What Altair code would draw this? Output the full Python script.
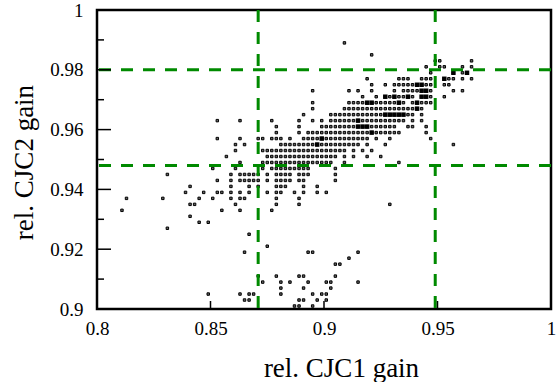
import altair as alt
import pandas as pd

# x values (in thousandths) of the points in each row; the row's y value (thousandths) is in the name
y989 = [909]
y985 = [921]
y983 = [949, 951, 965]
y981 = [945, 951, 953, 961, 965]
y979 = [947, 957, 961, 963]
y977 = [919, 933, 935, 937, 943, 945, 947, 953, 955, 957, 961, 965]
y975 = [921, 927, 931, 933, 935, 937, 939, 941, 943, 945, 947, 953, 955]
y973 = [895, 911, 915, 921, 931, 935, 937, 939, 941, 943, 945, 947, 957, 961]
y971 = [917, 923, 927, 929, 931, 933, 935, 937, 939, 943, 945, 947, 953]
y969 = [895, 911, 913, 915, 917, 919, 921, 923, 925, 927, 929, 931, 933, 935, 939, 941, 943, 945, 947]
y967 = [895, 909, 911, 913, 915, 917, 919, 921, 923, 925, 927, 929, 931, 933, 935, 937, 939, 941, 943]
y965 = [891, 903, 905, 907, 909, 911, 913, 915, 917, 919, 921, 923, 925, 927, 929, 931, 933, 935, 937, 939, 943]
y963 = [853, 863, 877, 889, 895, 899, 903, 905, 907, 909, 911, 913, 915, 917, 919, 921, 923, 925, 927, 929, 931, 933, 935, 939, 943]
y961 = [879, 889, 899, 901, 903, 905, 907, 909, 911, 913, 915, 917, 919, 921, 923, 925, 927, 929, 931, 937, 939, 945]
y959 = [879, 889, 893, 895, 897, 899, 901, 903, 905, 907, 909, 911, 913, 915, 917, 919, 921, 923, 925, 927, 929, 931, 933, 945]
y957 = [853, 863, 871, 873, 877, 879, 881, 885, 891, 893, 895, 897, 899, 901, 903, 905, 907, 909, 911, 913, 915, 917, 919, 923, 929, 947]
y955 = [861, 865, 881, 883, 885, 887, 889, 891, 893, 895, 897, 899, 901, 903, 905, 907, 909, 911, 913, 915, 919, 927, 957]
y953 = [861, 873, 875, 877, 879, 881, 883, 885, 887, 889, 891, 893, 895, 897, 899, 901, 903, 905, 907, 909, 913, 917, 921]
y951 = [857, 875, 877, 879, 881, 883, 885, 887, 889, 891, 893, 895, 897, 899, 901, 903, 905, 909, 913, 919, 925]
y949 = [863, 873, 875, 877, 879, 881, 883, 885, 887, 889, 891, 893, 895, 897, 899, 901, 903, 909, 933]
y947 = [851, 861, 873, 877, 879, 881, 883, 885, 887, 889, 891, 893, 905]
y945 = [831, 859, 863, 865, 867, 869, 871, 875, 879, 881, 883, 885, 889, 891, 893, 905]
y943 = [853, 859, 863, 865, 867, 869, 871, 875, 879, 881, 883, 885, 889, 891, 905]
y941 = [841, 859, 867, 871, 879, 881, 883, 891, 897]
y939 = [839, 847, 853, 855, 859, 863, 867, 875, 879, 881, 887, 891, 897, 901]
y937 = [813, 829, 845, 851, 859, 863, 865, 879, 889]
y935 = [841, 843, 861, 879, 889, 929]
y933 = [811, 855, 863, 877]
y931 = [841]
y929 = [845, 849]
y927 = [831]
y925 = [867]
y921 = [875]
y919 = [865, 893, 895, 915]
y917 = [911]
y915 = [905, 907]
y911 = [871, 879, 889, 891, 905]
y909 = [873, 881, 885, 893, 901, 903, 915]
y907 = [881, 891, 903]
y905 = [849, 863, 867, 869, 881, 895, 899, 901]
y903 = [865, 867, 889, 891, 897, 901]
y901 = [887, 889, 895]

# overlapping (dense) spots drawn as solid squares, thousandths
heavy_x = [957, 963, 953, 941, 943, 943, 945, 927, 931, 937, 943, 945, 919, 921, 933, 941,
           941, 927, 929, 931, 933, 935, 915, 915, 917, 919, 921, 897, 899]
heavy_y = [979, 979, 977, 975, 975, 973, 973, 971, 971, 971, 971, 971, 969, 969, 969, 969,
           967, 965, 965, 965, 965, 965, 963, 961, 961, 961, 959, 955, 957]

# cut lines
cut_x = [0.871, 0.949]
cut_y = [0.948, 0.98]

# axis ticks
x_ticks = [0.8, 0.85, 0.9, 0.95, 1.0]
y_ticks = [0.9, 0.92, 0.94, 0.96, 0.98, 1.0]
y_minor = [0.91, 0.93, 0.95, 0.97, 0.99]

rows = [
    (989, y989), (985, y985), (983, y983), (981, y981), (979, y979), (977, y977),
    (975, y975), (973, y973), (971, y971), (969, y969), (967, y967), (965, y965),
    (963, y963), (961, y961), (959, y959), (957, y957), (955, y955), (953, y953),
    (951, y951), (949, y949), (947, y947), (945, y945), (943, y943), (941, y941),
    (939, y939), (937, y937), (935, y935), (933, y933), (931, y931), (929, y929),
    (927, y927), (925, y925), (921, y921), (919, y919), (917, y917), (915, y915),
    (911, y911), (909, y909), (907, y907), (905, y905), (903, y903), (901, y901),
]
recs = []
for yv, xs_ in rows:
    for xv in xs_:
        recs.append({"x": xv / 1000.0, "y": yv / 1000.0})
pts = pd.DataFrame(recs)
heavy = pd.DataFrame({"x": [v / 1000.0 for v in heavy_x], "y": [v / 1000.0 for v in heavy_y]})

FONT = "Liberation Serif"
W, H = 454, 299
xs = alt.Scale(domain=[0.8, 1.0], nice=False, zero=False)
ys = alt.Scale(domain=[0.9, 1.0], nice=False, zero=False)

x_axis = alt.Axis(
    values=x_ticks, format="~g", ticks=False, domain=False, grid=False,
    labelFont=FONT, labelFontSize=19, labelColor="black", labelPadding=10,
    labelFlush=False,
    title="rel. CJC1 gain", titleFont=FONT, titleFontSize=27, titleFontWeight="normal",
    titleColor="black", titleX=244, titleY=67, titleBaseline="alphabetic", titleAlign="center")
y_axis = alt.Axis(
    values=y_ticks, format="~g", ticks=False, domain=False, grid=False,
    labelFont=FONT, labelFontSize=19, labelColor="black", labelPadding=14,
    title="rel. CJC2 gain", titleFont=FONT, titleFontSize=27, titleFontWeight="normal",
    titleColor="black", titleX=-65, titleY=152, titleAngle=270,
    titleBaseline="alphabetic", titleAlign="center")

points = alt.Chart(pts).mark_point(
    shape="square", filled=True, fill="#666666", stroke="black", size=6,
    strokeWidth=1, opacity=1, fillOpacity=1
).encode(
    x=alt.X("x:Q", scale=xs, axis=x_axis),
    y=alt.Y("y:Q", scale=ys, axis=y_axis),
)

heavy_pts = alt.Chart(heavy).mark_square(size=20, color="black", opacity=1).encode(
    x=alt.X("x:Q", scale=xs),
    y=alt.Y("y:Q", scale=ys),
)

green = "#008a00"
vlines = alt.Chart(pd.DataFrame({"x": cut_x})).mark_rule(
    color=green, strokeWidth=3, strokeDash=[12, 10]
).encode(x=alt.X("x:Q", scale=xs))

hlines = alt.Chart(pd.DataFrame({"y": cut_y})).mark_rule(
    color=green, strokeWidth=3, strokeDash=[12, 10]
).encode(y=alt.Y("y:Q", scale=ys))

ytick_major = alt.Chart(pd.DataFrame({"y": y_ticks})).mark_rule(
    color="black", strokeWidth=1.5
).encode(x=alt.value(0), x2=alt.value(14), y=alt.Y("y:Q", scale=ys))

ytick_minor = alt.Chart(pd.DataFrame({"y": y_minor})).mark_rule(
    color="black", strokeWidth=1.5
).encode(x=alt.value(0), x2=alt.value(7), y=alt.Y("y:Q", scale=ys))

xtick_major = alt.Chart(pd.DataFrame({"x": x_ticks})).mark_rule(
    color="black", strokeWidth=1.5
).encode(y=alt.value(H), y2=alt.value(H - 8), x=alt.X("x:Q", scale=xs))

chart = alt.layer(
    points, heavy_pts, vlines, hlines, ytick_major, ytick_minor, xtick_major
).properties(
    width=W, height=H,
    padding={"left": 97, "top": 10, "right": 7, "bottom": 73},
    autosize=alt.AutoSizeParams(type="none"),
    background="white",
).configure(
    font=FONT
).configure_axis(
    labelFont=FONT, titleFont=FONT, labelFontSize=19, titleFontSize=27
).configure_view(stroke="black", strokeWidth=2.5)

chart.save("out.html", embed_options={"renderer": "svg", "actions": False})
